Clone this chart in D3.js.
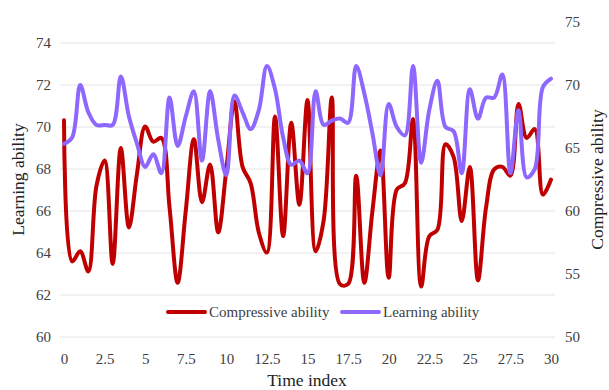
<!DOCTYPE html>
<html>
<head>
<meta charset="utf-8">
<script src="https://cdn.jsdelivr.net/npm/d3@7"></script>
<style>
  html, body { margin: 0; padding: 0; background: #fff; }
  svg { display: block; font-family: "Liberation Serif", "Times New Roman", serif; }
</style>
</head>
<body>
<svg id="chart" width="609" height="390"></svg>
<script>
// Time index (every half step)
const timeIndex = d3.range(0, 30.001, 0.5);

// Compressive ability (right axis)
const compressive = [
  67.2, 56.0, 56.8, 55.2, 62.0, 64.0, 55.8, 65.0, 58.7, 63.0,
  66.7, 65.5, 65.8, 60.3, 54.3, 60.0, 65.7, 60.7, 63.7, 58.3,
  63.3, 68.7, 63.5, 62.2, 58.3, 56.7, 67.5, 58.0, 67.0, 60.5,
  68.8, 56.8, 59.3, 69.0, 54.2, 54.2, 62.8, 54.3, 60.0, 64.8,
  54.7, 61.7, 62.2, 67.3, 54.0, 58.0, 58.5, 65.3, 64.3, 59.2,
  63.5, 54.5, 60.3, 63.3, 63.5, 62.8, 68.5, 65.8, 66.5, 61.3,
  62.5
];

// Learning ability (left axis)
const learning = [
  69.2, 69.5, 72.0, 70.7, 70.1, 70.1, 70.1, 72.4, 70.5, 69.2,
  68.1, 68.7, 67.8, 71.4, 69.1, 70.5, 71.7, 68.4, 71.7, 69.4,
  67.7, 71.5, 70.7, 69.9, 70.8, 72.9, 71.8, 69.5, 68.2, 68.4,
  67.8, 71.7, 70.1, 70.3, 70.4, 70.2, 72.9, 71.6, 69.7, 67.7,
  71.1, 70.0, 69.6, 72.9, 68.3, 70.8, 72.2, 70.0, 69.8, 67.8,
  71.8, 70.4, 71.4, 71.4, 72.5, 67.8, 70.8, 67.6, 68.0, 71.9,
  72.3
];

const xTicks = d3.range(0, 30.001, 2.5);
const leftTicks = d3.range(60, 74.001, 2);
const rightTicks = d3.range(50, 75.001, 5);

const seriesNames = ["Compressive ability", "Learning ability"];
const seriesColors = ["#c00000", "#8e67ff"];

const svg = d3.select("#chart");
const plot = { left: 60, right: 555, top: 22, bottom: 337 };

const x = d3.scaleLinear().domain([0, 30]).range([64, 551]);
const yL = d3.scaleLinear().domain([60, 75]).range([plot.bottom, plot.top]);
const yR = d3.scaleLinear().domain([50, 75]).range([plot.bottom, plot.top]);

// horizontal gridlines on the left-axis ticks
svg.append("g")
  .selectAll("line")
  .data(leftTicks)
  .join("line")
  .attr("x1", plot.left).attr("x2", plot.right)
  .attr("y1", d => yL(d)).attr("y2", d => yL(d))
  .attr("stroke", "#e4e4e4").attr("stroke-width", 1);

function styleAxis(g) {
  g.select(".domain").remove();
  g.selectAll(".tick line").remove();
  g.selectAll(".tick text")
    .attr("fill", "#404040")
    .style("font-size", "15px")
    .style("font-family", "\"Liberation Serif\", \"Times New Roman\", serif");
}

svg.append("g")
  .attr("transform", `translate(${plot.left},0)`)
  .call(d3.axisLeft(yL).tickValues(leftTicks).tickSize(0).tickPadding(9).tickFormat(d3.format("d")))
  .call(styleAxis);

svg.append("g")
  .attr("transform", `translate(${plot.right},0)`)
  .call(d3.axisRight(yR).tickValues(rightTicks).tickSize(0).tickPadding(10).tickFormat(d3.format("d")))
  .call(styleAxis);

svg.append("g")
  .attr("transform", `translate(0,${plot.bottom})`)
  .call(d3.axisBottom(x).tickValues(xTicks).tickSize(0).tickPadding(16).tickFormat(d3.format("~g")))
  .call(styleAxis);

// smoothed series lines
const lineR = d3.line()
  .x((d, i) => x(timeIndex[i]))
  .y(d => yR(d))
  .curve(d3.curveCatmullRom.alpha(0.5));

const lineL = d3.line()
  .x((d, i) => x(timeIndex[i]))
  .y(d => yL(d))
  .curve(d3.curveCatmullRom.alpha(0.5));

svg.append("path")
  .datum(compressive)
  .attr("d", lineR)
  .attr("fill", "none")
  .attr("stroke", seriesColors[0])
  .attr("stroke-width", 4)
  .attr("stroke-linejoin", "round")
  .attr("stroke-linecap", "round");

svg.append("path")
  .datum(learning)
  .attr("d", lineL)
  .attr("fill", "none")
  .attr("stroke", seriesColors[1])
  .attr("stroke-width", 4)
  .attr("stroke-linejoin", "round")
  .attr("stroke-linecap", "round");

// axis titles
const titleStyle = sel => sel
  .attr("fill", "#222")
  .style("font-size", "17.5px")
  .attr("text-anchor", "middle");

svg.append("text")
  .attr("transform", `translate(24,${(plot.top + plot.bottom) / 2}) rotate(-90)`)
  .text("Learning ability")
  .call(titleStyle);

svg.append("text")
  .attr("transform", `translate(603,${(plot.top + plot.bottom) / 2}) rotate(-90)`)
  .text("Compressive ability")
  .call(titleStyle);

svg.append("text")
  .attr("x", 307).attr("y", 386)
  .text("Time index")
  .call(titleStyle);

// legend
const legendItems = [
  { name: seriesNames[0], color: seriesColors[0], x: 168 },
  { name: seriesNames[1], color: seriesColors[1], x: 342 }
];
const legend = svg.append("g");
legendItems.forEach(item => {
  legend.append("line")
    .attr("x1", item.x).attr("x2", item.x + 37)
    .attr("y1", 312).attr("y2", 312)
    .attr("stroke", item.color).attr("stroke-width", 4)
    .attr("stroke-linecap", "round");
  legend.append("text")
    .attr("x", item.x + 41).attr("y", 317)
    .attr("fill", "#404040")
    .style("font-size", "15px")
    .text(item.name);
});
</script>
</body>
</html>
